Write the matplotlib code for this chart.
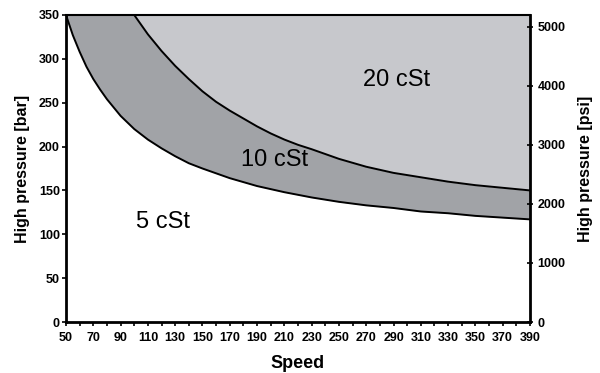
import numpy as np
import matplotlib.pyplot as plt
from matplotlib.ticker import MultipleLocator

plt.rcParams['font.family'] = ['Liberation Sans', 'DejaVu Sans']

# 5 cSt / 10 cSt boundary
speed_lo = [50, 55, 60, 65, 70, 75, 80, 90, 100, 110, 120, 130, 140, 150, 170, 190,
            210, 230, 250, 270, 290, 310, 330, 350, 370, 390]
bar_lo = [350, 327, 308, 291, 277, 265, 254, 235, 220, 208, 198, 189, 181, 175, 164, 155,
          148, 142, 137, 133, 130, 126, 124, 121, 119, 117]

# 10 cSt / 20 cSt boundary
speed_hi = [100, 110, 120, 130, 140, 150, 160, 170, 180, 190, 200, 210, 220, 230, 250,
            270, 290, 310, 330, 350, 370, 390]
bar_hi = [350, 328, 309, 292, 277, 263, 251, 241, 232, 223, 215, 208, 202, 197, 186,
          177, 170, 165, 160, 156, 153, 150]

xticks = list(range(50, 391, 20))
bar_ticks = list(range(0, 351, 50))
psi_ticks = [0, 1000, 2000, 3000, 4000, 5000]

light = '#c7c8cc'
dark = '#a1a3a7'

fig = plt.figure(figsize=(6, 3.73), dpi=100)
ax = fig.add_axes([0.11, 0.1367, 0.7733, 0.8231])

s_hi_full = [50] + speed_hi
b_hi_full = [350] + bar_hi
s_all = sorted(set(speed_lo) | set(s_hi_full))
lo_i = np.interp(s_all, speed_lo, bar_lo)
hi_i = np.interp(s_all, s_hi_full, b_hi_full)
ax.fill_between(s_all, lo_i, hi_i, color=dark, lw=0)
ax.fill_between(s_all, hi_i, 350, color=light, lw=0)
ax.plot(speed_lo, bar_lo, color='black', lw=1.4)
ax.plot(speed_hi, bar_hi, color='black', lw=1.4)

ax.text(121, 114, '5 cSt', fontsize=17, ha='center', va='center')
ax.text(203, 185, '10 cSt', fontsize=17, ha='center', va='center')
ax.text(292, 276, '20 cSt', fontsize=17, ha='center', va='center')

ax.set_xlim(50, 390)
ax.set_ylim(0, 350)
ax.set_xticks(xticks)
ax.xaxis.set_minor_locator(MultipleLocator(10))
ax.set_yticks(bar_ticks)
ax.tick_params(axis='both', which='both', direction='out', length=3, width=1.2,
               labelsize=9, pad=1.5)
ax.tick_params(axis='x', pad=4)
for lab in ax.get_xticklabels() + ax.get_yticklabels():
    lab.set_fontweight('bold')
ax.set_xlabel('Speed', fontsize=13, fontweight='bold', labelpad=8)
ax.set_ylabel('High pressure [bar]', fontsize=11.5, fontweight='bold', labelpad=6)
for side in ['left', 'bottom', 'right']:
    ax.spines[side].set_linewidth(2)
ax.spines['top'].set_linewidth(1.5)

ax2 = ax.twinx()
ax2.set_ylim(0, 5200)
ax2.set_yticks(psi_ticks)
ax2.tick_params(axis='y', direction='inout', length=5, width=1.2, labelsize=9, pad=3)
for lab in ax2.get_yticklabels():
    lab.set_fontweight('bold')
ax2.set_ylabel('High pressure [psi]', fontsize=11.5, fontweight='bold', labelpad=9)
for sp in ax2.spines.values():
    sp.set_visible(False)

fig.savefig('out.png', dpi=100)
